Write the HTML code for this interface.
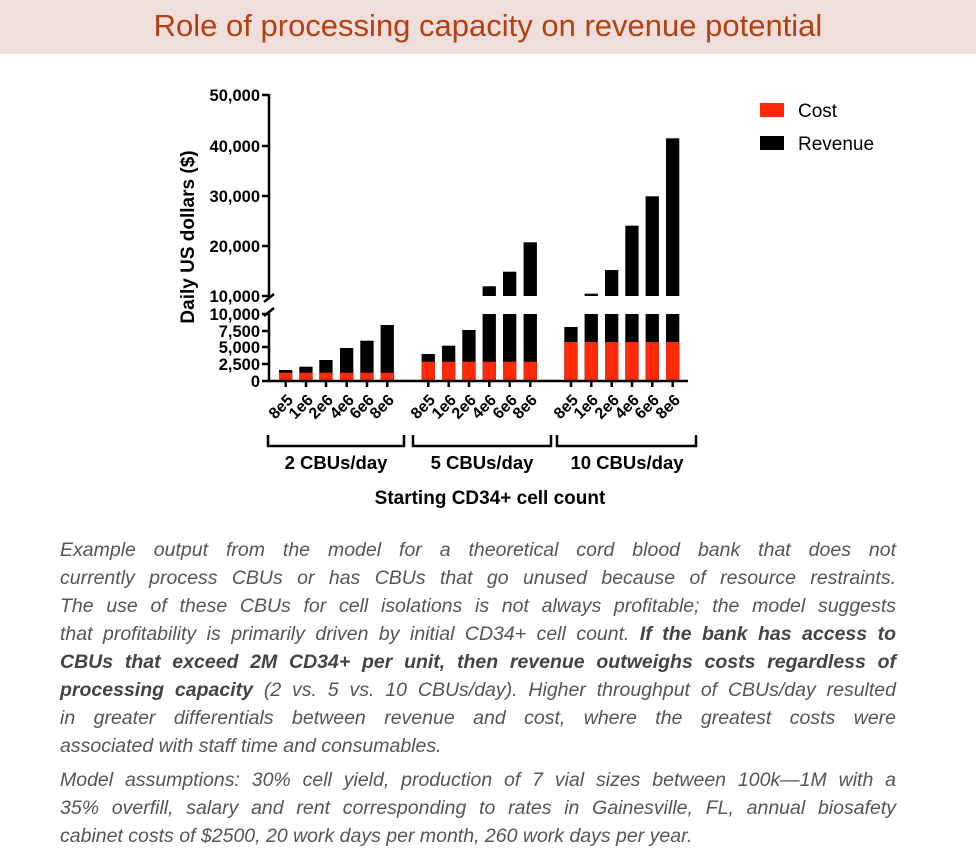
<!DOCTYPE html>
<html><head><meta charset="utf-8"><style>
body{margin:0;width:976px;height:858px;background:#fff;position:relative;overflow:hidden;font-family:"Liberation Sans",sans-serif}
.band{position:absolute;left:0;top:0;width:976px;height:54px;background:#f0dedd}
.title{position:absolute;left:0;top:8px;width:976px;text-align:center;font-size:31px;color:#b3400f;white-space:nowrap}
.p{position:absolute;left:60px;width:836px;font-style:italic;font-size:19.5px;color:#555;line-height:28px}
.p div{text-align:justify;text-align-last:justify;white-space:nowrap;height:28px}
.p div.l{text-align-last:left}
b{color:#444}
</style></head><body>
<div class="band"></div>
<div class="title">Role of processing capacity on revenue potential</div>
<svg style="position:absolute;left:0;top:0" width="976" height="858" font-family="Liberation Sans, sans-serif">
<g fill="#000">
<rect x="279" y="370" width="13.3" height="11"/><rect x="299.3" y="366.7" width="13.3" height="14.3"/><rect x="319.3" y="360" width="13.3" height="21"/><rect x="340" y="348" width="13.3" height="33"/><rect x="360.3" y="340.7" width="13.3" height="40.3"/><rect x="380.6" y="325" width="13.3" height="56"/>
<rect x="421.6" y="354" width="13.3" height="27"/><rect x="442" y="345.7" width="13.3" height="35.3"/><rect x="462.3" y="330" width="13.3" height="51"/><rect x="482.6" y="314" width="13.3" height="67"/><rect x="503" y="314" width="13.3" height="67"/><rect x="523.6" y="314" width="13.3" height="67"/>
<rect x="482.6" y="286.3" width="13.3" height="9.7"/><rect x="503" y="271.7" width="13.3" height="24.3"/><rect x="523.6" y="242.3" width="13.3" height="53.7"/>
<rect x="564.3" y="327" width="13.3" height="54"/><rect x="584.6" y="314" width="13.3" height="67"/><rect x="605" y="314" width="13.3" height="67"/><rect x="625.3" y="314" width="13.3" height="67"/><rect x="645.6" y="314" width="13.3" height="67"/><rect x="666" y="314" width="13.3" height="67"/>
<rect x="584.6" y="293.7" width="13.3" height="2.3"/><rect x="605" y="270" width="13.3" height="26"/><rect x="625.3" y="225.7" width="13.3" height="70.3"/><rect x="645.6" y="196.3" width="13.3" height="99.7"/><rect x="666" y="138.3" width="13.3" height="157.7"/>
</g>
<g fill="#ff2a0a">
<rect x="279" y="372.7" width="13.3" height="8.3"/><rect x="299.3" y="372.7" width="13.3" height="8.3"/><rect x="319.3" y="372.7" width="13.3" height="8.3"/><rect x="340" y="372.7" width="13.3" height="8.3"/><rect x="360.3" y="372.7" width="13.3" height="8.3"/><rect x="380.6" y="372.7" width="13.3" height="8.3"/>
<rect x="421.6" y="361.7" width="13.3" height="19.3"/><rect x="442" y="361.7" width="13.3" height="19.3"/><rect x="462.3" y="361.7" width="13.3" height="19.3"/><rect x="482.6" y="361.7" width="13.3" height="19.3"/><rect x="503" y="361.7" width="13.3" height="19.3"/><rect x="523.6" y="361.7" width="13.3" height="19.3"/>
<rect x="564.3" y="342" width="13.3" height="39"/><rect x="584.6" y="342" width="13.3" height="39"/><rect x="605" y="342" width="13.3" height="39"/><rect x="625.3" y="342" width="13.3" height="39"/><rect x="645.6" y="342" width="13.3" height="39"/><rect x="666" y="342" width="13.3" height="39"/>
</g>
<g stroke="#000" stroke-width="2.5" fill="none">
<line x1="269" y1="94" x2="269" y2="297"/><line x1="269" y1="311" x2="269" y2="382"/>
<line x1="264" y1="302" x2="274" y2="294"/><line x1="264" y1="316" x2="274" y2="308"/>
<line x1="268" y1="381" x2="688" y2="381"/>
<line x1="262" y1="95" x2="269" y2="95"/><line x1="262" y1="146" x2="269" y2="146"/><line x1="262" y1="196" x2="269" y2="196"/><line x1="262" y1="246" x2="269" y2="246"/><line x1="262" y1="296" x2="269" y2="296"/>
<line x1="262" y1="314" x2="269" y2="314"/><line x1="262" y1="331" x2="269" y2="331"/><line x1="262" y1="347" x2="269" y2="347"/><line x1="262" y1="364" x2="269" y2="364"/><line x1="262" y1="381" x2="269" y2="381"/>
<path d="M285.7 381v6M306 381v6M326 381v6M346.7 381v6M367 381v6M387.3 381v6M428.3 381v6M448.7 381v6M469 381v6M489.3 381v6M509.7 381v6M530.3 381v6M571 381v6M591.3 381v6M611.7 381v6M632 381v6M652.3 381v6M672.7 381v6"/>
<path d="M268 435v11h136v-11M413 435v11h138v-11M557 435v11h139v-11"/>
</g>
<g font-size="16.5" font-weight="bold" text-anchor="end">
<text x="260" y="101">50,000</text><text x="260" y="152">40,000</text><text x="260" y="202">30,000</text><text x="260" y="252">20,000</text><text x="260" y="302">10,000</text>
<text x="260" y="320">10,000</text><text x="260" y="337">7,500</text><text x="260" y="353">5,000</text><text x="260" y="370">2,500</text><text x="260" y="387">0</text>
</g>
<text transform="translate(194,237) rotate(-90)" text-anchor="middle" font-size="19" font-weight="bold">Daily US dollars  ($)</text>
<g font-size="16" font-weight="bold" text-anchor="end">
<text transform="translate(294,401) rotate(-45)">8e5</text><text transform="translate(314,401) rotate(-45)">1e6</text><text transform="translate(334,401) rotate(-45)">2e6</text><text transform="translate(355,401) rotate(-45)">4e6</text><text transform="translate(375,401) rotate(-45)">6e6</text><text transform="translate(395,401) rotate(-45)">8e6</text>
<text transform="translate(436,401) rotate(-45)">8e5</text><text transform="translate(457,401) rotate(-45)">1e6</text><text transform="translate(477,401) rotate(-45)">2e6</text><text transform="translate(497,401) rotate(-45)">4e6</text><text transform="translate(518,401) rotate(-45)">6e6</text><text transform="translate(538,401) rotate(-45)">8e6</text>
<text transform="translate(579,401) rotate(-45)">8e5</text><text transform="translate(599,401) rotate(-45)">1e6</text><text transform="translate(620,401) rotate(-45)">2e6</text><text transform="translate(640,401) rotate(-45)">4e6</text><text transform="translate(660,401) rotate(-45)">6e6</text><text transform="translate(681,401) rotate(-45)">8e6</text>
</g>
<g font-size="18.5" font-weight="bold" text-anchor="middle">
<text x="336" y="469">2  CBUs/day</text><text x="482" y="469">5  CBUs/day</text><text x="627" y="469">10  CBUs/day</text>
<text x="490" y="504" font-size="19">Starting CD34+ cell count</text>
</g>
<rect x="760" y="103" width="24" height="14" fill="#ff2a0a"/><rect x="760" y="136" width="24" height="14" fill="#000"/>
<text x="798" y="117" font-size="19">Cost</text><text x="798" y="150" font-size="19">Revenue</text>
</svg>
<div class="p" style="top:536px">
<div>Example output from the model for a theoretical cord blood bank that does not</div>
<div>currently process CBUs or has CBUs that go unused because of resource restraints.</div>
<div>The use of these CBUs for cell isolations is not always profitable; the model suggests</div>
<div>that profitability is primarily driven by initial CD34+ cell count. <b>If the bank has access to</b></div>
<div><b>CBUs that exceed 2M CD34+ per unit, then revenue outweighs costs regardless of</b></div>
<div><b>processing capacity</b> (2 vs. 5 vs. 10 CBUs/day). Higher throughput of CBUs/day resulted</div>
<div>in greater differentials between revenue and cost, where the greatest costs were</div>
<div class="l">associated with staff time and consumables.</div>
</div>
<div class="p" style="top:766px">
<div>Model assumptions: 30% cell yield, production of 7 vial sizes between 100k—1M with a</div>
<div>35% overfill, salary and rent corresponding to rates in Gainesville, FL, annual biosafety</div>
<div class="l">cabinet costs of $2500,  20 work days per month, 260 work days per year.</div>
</div>
</body></html>
